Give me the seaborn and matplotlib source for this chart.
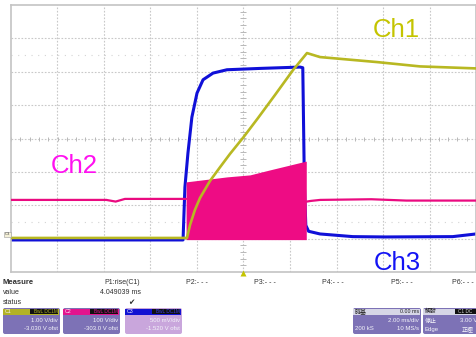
import matplotlib
matplotlib.use("Agg")
import matplotlib.pyplot as plt
from matplotlib.patches import FancyBboxPatch, Rectangle
import numpy as np
import pandas as pd
import seaborn as sns

# ---- acquisition settings ----
CH_SCALE = {"C1": 1.0, "C2": 100.0, "C3": 0.5}          # V/div
CH_OFFSET = {"C1": -3.030, "C2": -303.0, "C3": -1.520}  # V

# ---- Ch1: capacitor voltage (V) vs time (ms) ----
ch1_time = [-10.0, -2.43, -2.30, -2.09, -1.87, -1.44, -1.01, -0.58, 0.0, 0.62,
            1.35, 2.13, 2.73, 3.29, 5.74, 7.59, 10.0]
ch1_volts = [0.05, 0.05, 0.44, 0.89, 1.25, 1.76, 2.17, 2.57, 3.07, 3.64,
             4.33, 5.08, 5.59, 5.47, 5.32, 5.19, 5.13]

# ---- Ch2: switch node (V) ----
ch2_pre_time = [-10.0, -5.9, -5.5, -5.1, -2.47]
ch2_pre_volts = [119, 119, 114, 122, 122]
ch2_post_time = [2.72, 2.9, 3.3, 5.5, 7.0, 10.0]
ch2_post_volts = [114, 116, 119, 121, 117, 117]
# switching burst envelope
burst_time = [-2.47, -0.71, 0.28, 1.14, 2.56, 2.70]
burst_high = [173, 188, 194, 209, 233, 235]
burst_low = [0, 0, 0, 0, 0, 0]

# ---- Ch3: enable signal (V) ----
ch3_time = [-10.0, -2.60, -2.52, -2.39, -2.22, -2.00, -1.74, -1.31, -0.71, 0.71,
            2.43, 2.55, 2.62, 2.68, 2.80, 3.29, 4.70, 6.10, 9.00, 10.0]
ch3_volts = [0.0, 0.0, 0.79, 1.30, 1.84, 2.20, 2.40, 2.50, 2.55, 2.57,
             2.59, 2.58, 0.80, 0.22, 0.13, 0.09, 0.05, 0.045, 0.05, 0.09]


def to_div(ch, volts):
    return (np.asarray(volts, dtype=float) + CH_OFFSET[ch]) / CH_SCALE[ch]


COL1, COL2, COL3 = "#B8B822", "#EA0A80", "#1010D8"

sns.set_theme(style="white")
plt.rcParams["font.family"] = ["Liberation Sans", "Noto Sans CJK TC", "DejaVu Sans"]

W, H = 477, 337
fig = plt.figure(figsize=(W / 100, H / 100), dpi=100)
fig.patch.set_facecolor("white")
ax = fig.add_axes([11 / W, (H - 272) / H, 465 / W, 267 / H])
ax.set_xlim(-10, 10)
ax.set_ylim(-4, 4)
ax.set_facecolor("white")
ax.set_xticks([])
ax.set_yticks([])
for s in ax.spines.values():
    s.set_color("#C4C4C4")
    s.set_linewidth(1.2)

# graticule
for x in np.arange(-8, 9, 2):
    ax.axvline(x, color="#C8C8C8", lw=0.8, ls=(0, (1.5, 1.5)), zorder=0)
for y in np.arange(-3, 4, 1):
    ax.axhline(y, color="#C8C8C8", lw=0.8, ls=(0, (1.5, 1.5)), zorder=0)
for y in (2.5, -2.5):
    ax.axhline(y, color="#D4D4D4", lw=0.8, ls=(0, (1, 5)), zorder=0)
minor_x = np.arange(-10, 10.01, 0.4)
minor_y = np.arange(-4, 4.01, 0.2)
ax.plot(minor_x, np.zeros_like(minor_x), ls="none", marker="|", ms=3, mew=0.7,
        color="#B8B8B8", zorder=0)
ax.plot(np.zeros_like(minor_y), minor_y, ls="none", marker="_", ms=4, mew=0.7,
        color="#B8B8B8", zorder=0)

# Ch3 trace
df3 = pd.DataFrame({"t": ch3_time, "d": to_div("C3", ch3_volts)})
sns.lineplot(data=df3, x="t", y="d", sort=False, estimator=None, color=COL3,
             lw=2.2, ax=ax, zorder=2)

# Ch2 trace and burst
df2a = pd.DataFrame({"t": ch2_pre_time, "d": to_div("C2", ch2_pre_volts)})
df2b = pd.DataFrame({"t": ch2_post_time, "d": to_div("C2", ch2_post_volts)})
sns.lineplot(data=df2a, x="t", y="d", sort=False, estimator=None, color=COL2,
             lw=1.6, ax=ax, zorder=3)
sns.lineplot(data=df2b, x="t", y="d", sort=False, estimator=None, color=COL2,
             lw=1.6, ax=ax, zorder=3)
ax.fill_between(burst_time, to_div("C2", burst_low), to_div("C2", burst_high),
                color="#EE0C84", lw=0, zorder=3)

# Ch1 trace
df1 = pd.DataFrame({"t": ch1_time, "d": to_div("C1", ch1_volts)})
sns.lineplot(data=df1, x="t", y="d", sort=False, estimator=None, color=COL1,
             lw=1.9, ax=ax, zorder=4)
ax.set_xlabel("")
ax.set_ylabel("")
ax.set_xlim(-10, 10)
ax.set_ylim(-4, 4)

# channel names
ax.text(6.56, 3.05, "Ch1", color="#C4C400", fontsize=18.5, ha="center",
        va="baseline", zorder=5)
ax.text(-7.29, -1.03, "Ch2", color="#FF10F0", fontsize=18.5, ha="center",
        va="baseline", zorder=5)
ax.text(6.60, -3.94, "Ch3", color="#1414F4", fontsize=18.5, ha="center",
        va="baseline", zorder=5)

# trigger position marker
ax.plot([0], [-4.02], marker="^", ms=4.5, color="#C4C400", mec="none",
        clip_on=False, zorder=6)

# ---- status panel (pixel coordinates) ----
pan = fig.add_axes([0, 0, 1, 1], facecolor="none")
pan.set_xlim(0, W)
pan.set_ylim(H, 0)
pan.axis("off")

# ground marker for C3
pan.add_patch(Rectangle((4, 231.5), 7, 5, fc="#F4F0D8", ec="#9C9C9C", lw=0.4))
pan.text(7.5, 234, "C3", fontsize=3, ha="center", va="center", color="#404040")

TXT = "#303030"
pan.text(3, 283, "Measure", fontsize=5.5, fontweight="bold", va="center", color=TXT)
pan.text(3, 293, "value", fontsize=5, va="center", color=TXT)
pan.text(3, 302, "status", fontsize=5, va="center", color=TXT)
pan.text(104, 283, "P1:rise(C1)", fontsize=5, va="center", color=TXT)
pan.text(100, 293, "4.049039 ms", fontsize=5, va="center", color=TXT)
pan.text(131, 302, "\u2714", fontsize=5.5, va="center", ha="center", color=TXT,
         family="DejaVu Sans")
for x, lab in zip([186, 254, 322, 391, 452], ["P2", "P3", "P4", "P5", "P6"]):
    pan.text(x, 283, f"{lab}:- - -", fontsize=5, va="center", color=TXT)


def panel_box(x0, x1, head_col, body_col, y0=308, yh=314, y1=334):
    pan.add_patch(FancyBboxPatch((x0, y0), x1 - x0, y1 - y0,
                                 boxstyle="round,pad=0,rounding_size=2",
                                 fc=body_col, ec="none"))
    pan.add_patch(Rectangle((x0 + 0.5, y0 + 0.5), x1 - x0 - 1, yh - y0,
                            fc=head_col, ec="none"))


BODY = "#7D72B6"
WHITE = "#F4F4FA"
channels = [
    (3, 60, "C1", "#B2B226", BODY, "1.00 V/div", "-3.030 V ofst", "#B2B226"),
    (63, 120, "C2", "#E2148E", BODY, "100 V/div", "-303.0 V ofst", "#E2148E"),
    (125, 182, "C3", "#1212D2", "#C9A6DC", "500 mV/div", "-1.520 V ofst", "#3A3AF0"),
]
for x0, x1, name, hc, bc, l1, l2, tagc in channels:
    panel_box(x0, x1, hc, bc)
    pan.text(x0 + 2, 311.3, name, fontsize=3.8, va="center", color=WHITE)
    pan.add_patch(Rectangle((x0 + 27, 309.2), x1 - x0 - 28.5, 4.3, fc="#101010", ec="none"))
    pan.text(x1 - 2, 311.3, "BwL DC1M", fontsize=3.4, va="center", ha="right", color=tagc)
    pan.text(x1 - 2, 321, l1, fontsize=4.3, va="center", ha="right", color=WHITE)
    pan.text(x1 - 2, 329, l2, fontsize=4.3, va="center", ha="right", color=WHITE)

# timebase box
panel_box(353, 421, "#D6D6E6", BODY)
pan.text(355, 311.3, "時基", fontsize=4.3, va="center", color="#202020")
pan.text(419, 311.3, "0.00 ms", fontsize=3.8, va="center", ha="right", color="#202020")
pan.text(419, 321, "2.00 ms/div", fontsize=4.3, va="center", ha="right", color=WHITE)
pan.text(355, 329, "200 kS", fontsize=4.3, va="center", color=WHITE)
pan.text(419, 329, "10 MS/s", fontsize=4.3, va="center", ha="right", color=WHITE)

# trigger box
panel_box(423, 490, "#D6D6E6", BODY)
pan.text(425, 311.3, "觸發", fontsize=4.3, va="center", color="#202020")
pan.add_patch(Rectangle((455, 309.2), 40, 4.3, fc="#101010", ec="none"))
pan.text(458, 311.3, "C1 DC", fontsize=3.4, va="center", color="#D8D8D8")
pan.text(425, 321, "停止", fontsize=4.3, va="center", color=WHITE)
pan.text(460, 321, "3.00 V", fontsize=4.3, va="center", color=WHITE)
pan.text(425, 329, "Edge", fontsize=4.3, va="center", color=WHITE)
pan.text(462, 329, "正極", fontsize=4.3, va="center", color=WHITE)

fig.savefig("out.png", dpi=100, facecolor="white")
